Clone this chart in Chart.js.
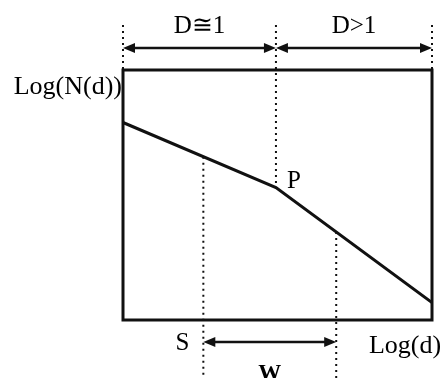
<!DOCTYPE html>
<html>
<head>
<meta charset="utf-8">
<script src="https://cdn.jsdelivr.net/npm/chart.js@4/dist/chart.umd.min.js"></script>
<style>
  html, body { margin: 0; padding: 0; background: #fff; }
  #wrap { width: 443px; height: 378px; }
</style>
</head>
<body>
<div id="wrap"><canvas id="myChart"></canvas></div>
<script>
// log(d) positions of the curve and its log(N(d)) values
const logD = [0, 49.5, 100];
const logN = [79, 53, 7];
// regime boundaries (left edge, break point P, right edge)
const regimeBounds = [0, 49.5, 100];
const regimeLabels = ["D\u22451", "D>1"];
// fitting window S .. S+W
const windowBounds = [26, 69];

const FONT = "'Liberation Serif', 'Times New Roman', serif";

// y of the curve at a given x
function curveAt(x) {
  for (let i = 0; i < logD.length - 1; i++) {
    if (x >= logD[i] && x <= logD[i + 1]) {
      let t = (x - logD[i]) / (logD[i + 1] - logD[i]);
      return logN[i] + t * (logN[i + 1] - logN[i]);
    }
  }
  return logN[logN.length - 1];
}

function dotted(ctx, x, y1, y2) {
  ctx.save();
  ctx.strokeStyle = "#111";
  ctx.lineWidth = 2;
  ctx.setLineDash([2, 4]);
  ctx.beginPath();
  ctx.moveTo(x, y1);
  ctx.lineTo(x, y2);
  ctx.stroke();
  ctx.restore();
}

function head(ctx, x, y, dir) {
  ctx.beginPath();
  ctx.moveTo(x, y);
  ctx.lineTo(x - dir * 12, y - 5);
  ctx.lineTo(x - dir * 12, y + 5);
  ctx.closePath();
  ctx.fill();
}

function arrow(ctx, x1, x2, y) {
  ctx.save();
  ctx.strokeStyle = "#111";
  ctx.fillStyle = "#111";
  ctx.lineWidth = 2.5;
  ctx.beginPath();
  ctx.moveTo(x1 + 6, y);
  ctx.lineTo(x2 - 6, y);
  ctx.stroke();
  head(ctx, x1, y, -1);
  head(ctx, x2, y, 1);
  ctx.restore();
}

function text(ctx, str, x, y, align, size) {
  ctx.save();
  ctx.fillStyle = "#000";
  ctx.font = size + "px " + FONT;
  ctx.textAlign = align;
  ctx.textBaseline = "alphabetic";
  ctx.fillText(str, x, y);
  ctx.restore();
}

const sketch = {
  id: "sketch",
  afterDraw(chart) {
    const ctx = chart.ctx;
    const xs = chart.scales.x;
    const ys = chart.scales.y;
    const area = chart.chartArea;
    const px = v => xs.getPixelForValue(v);
    const py = v => ys.getPixelForValue(v);

    // frame
    ctx.save();
    ctx.strokeStyle = "#111";
    ctx.lineWidth = 3;
    ctx.strokeRect(area.left, area.top, area.right - area.left, area.bottom - area.top);
    ctx.restore();

    // regime boundaries above the frame
    const topY = area.top - 45;
    dotted(ctx, px(regimeBounds[0]), topY, area.top);
    dotted(ctx, px(regimeBounds[1]), topY, py(curveAt(regimeBounds[1])));
    dotted(ctx, px(regimeBounds[2]), topY, area.top);

    const arrowY = area.top - 22;
    for (let i = 0; i < regimeLabels.length; i++) {
      let a = px(regimeBounds[i]);
      let b = px(regimeBounds[i + 1]);
      arrow(ctx, a, b, arrowY);
      text(ctx, regimeLabels[i], (a + b) / 2, area.top - 37, "center", 25);
    }

    // window S .. W
    const bottomY = chart.height;
    for (let i = 0; i < windowBounds.length; i++) {
      dotted(ctx, px(windowBounds[i]), py(curveAt(windowBounds[i])), bottomY);
    }
    arrow(ctx, px(windowBounds[0]), px(windowBounds[1]), area.bottom + 22);

    text(ctx, "S", px(windowBounds[0]) - 21, area.bottom + 30, "center", 25);
    ctx.save();
    ctx.font = "bold 23px " + FONT;
    ctx.fillStyle = "#000";
    ctx.textAlign = "center";
    ctx.textBaseline = "top";
    ctx.fillText("W", (px(windowBounds[0]) + px(windowBounds[1])) / 2, area.bottom + 43);
    ctx.restore();

    // labels
    text(ctx, "P", px(regimeBounds[1]) + 11, py(curveAt(regimeBounds[1])), "left", 25);
    text(ctx, "Log(N(d))", area.left - 1, area.top + 24, "right", 26);
    text(ctx, "Log(d)", area.right - 27, area.bottom + 33, "center", 26);
  }
};

const ctx = document.getElementById("myChart").getContext("2d");
const chart = new Chart(ctx, {
  type: "scatter",
  data: {
    datasets: [{
      data: logD.map((x, i) => ({ x: x, y: logN[i] })),
      showLine: true,
      borderColor: "#111",
      borderWidth: 3,
      pointRadius: 0,
      tension: 0
    }]
  },
  options: {
    responsive: true,
    maintainAspectRatio: false,
    animation: false,
    events: [],
    layout: {
      padding: { left: 123, top: 70, right: 11, bottom: 58 }
    },
    plugins: {
      legend: { display: false },
      tooltip: { enabled: false }
    },
    scales: {
      x: { type: "linear", min: 0, max: 100, display: false },
      y: { type: "linear", min: 0, max: 100, display: false }
    }
  },
  plugins: [sketch]
});
</script>
</body>
</html>
